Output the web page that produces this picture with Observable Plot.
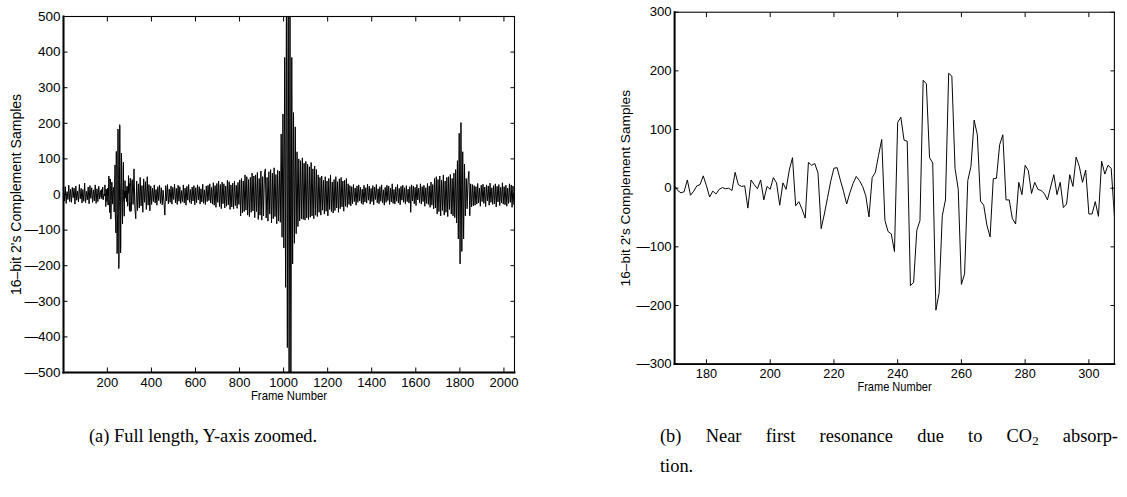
<!DOCTYPE html>
<html>
<head>
<meta charset="utf-8">
<script src="https://cdn.jsdelivr.net/npm/d3@7"></script>
<script src="https://cdn.jsdelivr.net/npm/@observablehq/plot@0.6"></script>
<style>
  html, body { margin: 0; padding: 0; background: #fff; }
  #root { position: relative; width: 1127px; height: 497px; overflow: hidden; background: #fff; }
  .panel { position: absolute; top: 0; }
  .cap { position: absolute; font-family: "Liberation Serif", "Times New Roman", serif; font-size: 18.4px; line-height: 30px; color: #000; white-space: nowrap; }
  .cap sub { font-size: 0.7em; vertical-align: -0.25em; line-height: 0; }
</style>
</head>
<body>
<div id="root">
  <div id="panelA" class="panel" style="left:0px"></div>
  <div id="panelB" class="panel" style="left:560px"></div>
  <div class="cap" style="left:89px; top:421px;">(a) Full length, Y-axis zoomed.</div>
  <div class="cap" style="left:660px; top:421px; width:458px;">
    <div style="text-align:justify; text-align-last:justify;">(b) Near first resonance due to CO<sub>2</sub> absorp-</div>
    <div>tion.</div>
  </div>
</div>
<script>
// ---------------- data ----------------
// Panel (a): frames 1..169, read every 4th frame (estimated noise envelope)
const headValues = [
  12, -18, 22, -25, 8, -14, 26, -20, 15, -22,
  20, -9, 18, -27, 24, -16, 10, -21, 28, -12,
  17, -24, 14, -19, 32, -23, 9, -15, 21, -26,
  25, -11, 19, -22, 13, -18, 27, -25, 16, -20,
  23, -13, 11
];
// Frames 170..308, every frame
const zoomValues = [
  4, -4, -8, -6, 14, -12, -5, 4, 6, 21,
  4, -15, -5, -10, -2, 1, -1, 0, -4, 27,
  6, 3, 4, -34, 14, 6, -1, 14, -20, 3,
  -2, 18, 9, -29, 9, -2, 31, 52, -30, -23,
  -36, -51, 44, 39, 42, 26, -69, -44, -16, 12,
  34, 35, 14, -5, -27, -8, 8, 20, 13, 3,
  -13, -49, 18, 27, 56, 83, -55, -74, -78, -108,
  112, 121, 82, 80, -166, -161, -72, -55, 184, 178,
  52, 43, -208, -179, -47, -20, 196, 191, 34, -2,
  -164, -146, 13, 37, 116, 91, -22, -29, -63, -83,
  16, 17, 74, 91, -20, -20, -52, -61, 10, -11,
  39, 30, -9, 10, -2, -4, -9, -20, 2, 23,
  -11, 10, -33, -27, 23, 3, 53, 37, 10, 31,
  -44, -44, -23, -48, 46, 24, 39, 34, -47
];
// Frames 309..2045, read every 4th frame (estimated noise envelope)
const tailValues = [
  -35, 42, -28, 72, -40, -68, 38, -45, 30, -38,
  48, -32, 25, -50, 44, -22, 36, -42, 50, -30,
  28, -46, 24, -28, 18, -20, 27, -24, 14, -30,
  22, -17, 26, -25, 19, -29, 12, -21, -58, 25,
  -18, 28, -26, 15, -22, 24, -27, 20, -14, 29,
  -23, 17, -28, 26, -19, 22, -25, 11, -20, 27,
  -24, 18, -30, 23, -16, 28, -22, 14, -26, 21,
  -18, 25, -29, 19, -23, 27, -15, 22, -27, 16,
  -21, 29, -25, 13, -28, 24, -20, 26, -17, 30,
  -24, 20, -27, 33, -30, 25, -36, 31, -22, 38,
  -34, 28, -40, 35, -26, 30, -38, 24, -33, 40,
  -29, 36, -42, 27, -35, 32, -40, 38, -31, 26,
  -39, 34, -28, 41, -60, 45, -52, 38, -48, 55,
  -44, 50, -58, 42, -62, 48, -50, 60, -46, 52,
  -65, 55, -48, 62, -70, 45, -58, 66, -72, 50,
  -60, 58, 72, -66, 48, -75, 64, -55, 70, -80,
  60, -68, 75, -62, 56, -82, 68, -74, 66, -78,
  170, -120, 226, -150, 385, -261, 620, -430, 640, -600,
  620, -610, 385, -195, 230, -137, 190, -110, 120, -90,
  100, -74, 95, -68, 103, -70, 88, -72, 93, -66,
  85, -70, 78, -64, 90, -60, 72, -68, 80, -58,
  70, -62, 55, -50, 48, -58, 52, -44, 40, -55,
  50, -47, 38, -60, 45, -42, 55, -48, 35, -52,
  42, -45, 50, -38, 36, -50, 44, -40, 48, -35,
  38, -47, 40, -33, 45, -36, 30, -28, 25, -32,
  22, -26, 28, -20, 18, -30, 24, -22, 27, -18,
  20, -25, 15, -28, 26, -21, 19, -24, 29, -16,
  23, -27, 17, -20, 25, -29, 21, -14, 28, -23,
  16, -26, 22, -19, 27, -24, 13, -30, 20, -22,
  26, -17, 24, -28, 18, -21, 30, -25, 14, -27,
  21, -19, 28, -24, 17, -29, 23, -16, 26, -22,
  19, -27, 25, -20, 15, -24, 22, -50, 27, -18,
  24, -26, 20, -31, 28, -15, 18, -23, 30, -27,
  22, -20, 26, -33, 19, -25, 31, -28, 24, -36,
  35, -30, 28, -40, 45, -38, 50, -55, 42, -48,
  52, -60, 40, -45, 55, -58, 38, -50, 48, -62,
  50, -42, 56, -55, 45, -60, 60, -65, 70, -80,
  95, -125, 172, -195, 202, -160, 120, -125, 85, -60,
  45, -40, 38, 65, -60, 30, -35, 28, -32, 25,
  -30, 22, -27, 31, -24, 18, -33, 26, -20, 29,
  -25, 21, -34, 27, -18, 24, -30, 32, -22, 19,
  -28, 25, -26, 30, -35, 23, -21, 28, -31, 20,
  -24, 33, -27, 22, -29, 26, -33, 18, -25, 30,
  -22, 27, -36, 24, -28
];

const xTicksA = [200, 400, 600, 800, 1000, 1200, 1400, 1600, 1800, 2000];
const yTicksA = [-500, -400, -300, -200, -100, 0, 100, 200, 300, 400, 500];
const xTicksB = [180, 200, 220, 240, 260, 280, 300];
const yTicksB = [-300, -200, -100, 0, 100, 200, 300];
const xDomainA = [1, 2048];
const yDomainA = [-500, 500];
const xDomainB = [170, 308];
const yDomainB = [-300, 300];
const xLabel = "Frame Number";
const yLabel = "16\u2013bit 2's Complement Samples";

// ---------------- build tables ----------------
const zoomData = zoomValues.map((v, i) => ({frame: 170 + i, value: v}));
const fullData = [
  ...headValues.map((v, i) => ({frame: 1 + 4 * i, value: v})),
  ...zoomData,
  ...tailValues.map((v, i) => ({frame: 309 + 4 * i, value: v}))
];

const fmt = d => d < 0 ? "\u2014" + (-d) : String(d);
const blank = () => "";
const TS = 4.5;
const sans = "'Liberation Sans', Arial, sans-serif";

function panel({data, width, marginLeft, marginRight, marginTop, xDomain, yDomain, xTicks, yTicks, yLabelDx}) {
  return Plot.plot({
    width, height: 410,
    marginLeft, marginRight, marginTop, marginBottom: 38,
    style: {fontFamily: sans, fontSize: "13px", color: "#000", background: "transparent", overflow: "visible"},
    x: {domain: xDomain},
    y: {domain: yDomain},
    marks: [
      Plot.line(data, {x: "frame", y: "value", stroke: "#000", strokeWidth: 1, clip: true}),
      Plot.frame({stroke: "#000", strokeWidth: 1.1}),
      Plot.frame({anchor: "left", stroke: "#000", strokeWidth: 2}),
      Plot.frame({anchor: "bottom", stroke: "#000", strokeWidth: 2}),
      Plot.axisX(xTicks, {anchor: "bottom", tickSize: 0, tickPadding: 5, tickFormat: fmt, label: null}),
      Plot.axisY(yTicks, {anchor: "left", tickSize: 0, tickPadding: 3, tickFormat: fmt, label: null, fontSize: 13.5}),
      Plot.axisX(xTicks, {anchor: "bottom", tickSize: TS, dy: -TS, tickFormat: blank, label: null}),
      Plot.axisX(xTicks, {anchor: "top", tickSize: TS, dy: TS, tickFormat: blank, label: null}),
      Plot.axisY(yTicks, {anchor: "left", tickSize: TS, dx: TS, tickFormat: blank, label: null}),
      Plot.axisY(yTicks, {anchor: "right", tickSize: TS, dx: -TS, tickFormat: blank, label: null}),
      Plot.text([xLabel], {text: d => d, frameAnchor: "bottom", textAnchor: "middle", dy: 27.5, fill: "#000", fontSize: 13}),
      Plot.text([yLabel], {text: d => d, frameAnchor: "left", textAnchor: "middle", rotate: -90, dx: yLabelDx,
        fill: "#000", fontSize: 14})
    ]
  });
}

function narrow(svg, label, factor) {
  for (const t of svg.querySelectorAll("text")) {
    if (t.textContent === label) {
      const L = t.getComputedTextLength();
      t.setAttribute("textLength", (L * factor).toFixed(1));
      t.setAttribute("lengthAdjust", "spacingAndGlyphs");
    }
  }
}

const svgA = panel({
  data: fullData, width: 530, marginLeft: 63, marginRight: 16, marginTop: 16,
  xDomain: xDomainA, yDomain: yDomainA, xTicks: xTicksA, yTicks: yTicksA, yLabelDx: -47
});
document.getElementById("panelA").appendChild(svgA);
const svgB = panel({
  data: zoomData, width: 580, marginLeft: 116.7, marginRight: 13.4, marginTop: 12,
  xDomain: xDomainB, yDomain: yDomainB, xTicks: xTicksB, yTicks: yTicksB, yLabelDx: -50
});
document.getElementById("panelB").appendChild(svgB);
narrow(svgA, xLabel, 0.87);
narrow(svgB, xLabel, 0.87);
</script>
</body>
</html>
